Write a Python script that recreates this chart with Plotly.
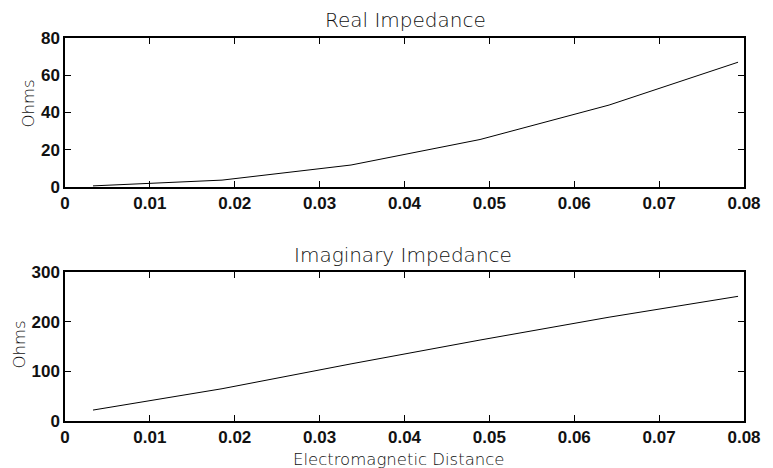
import plotly.graph_objects as go
from plotly.subplots import make_subplots

distance = [0.0033, 0.0185, 0.0337, 0.0489, 0.0641, 0.0793]
real_ohms = [0.6, 3.7, 11.8, 25.5, 44.0, 67.0]
imag_ohms = [22, 65, 115, 163, 209, 251]

x_ticks = [0, 0.01, 0.02, 0.03, 0.04, 0.05, 0.06, 0.07, 0.08]
x_ticklabels = ["0", "0.01", "0.02", "0.03", "0.04", "0.05", "0.06", "0.07", "0.08"]
real_ticks = [0, 20, 40, 60, 80]
real_ticklabels = ["0", "20", "40", "60", "80"]
imag_ticks = [0, 100, 200, 300]
imag_ticklabels = ["0", "100", "200", "300"]

# page body has an 8px margin; figure sized so it fits the window
OFF = 8
W, H = 773 - OFF, 468 - OFF
L, R, T, B = 65 - OFF, 21, 38 - OFF, 47
PW, PH = W - L - R, H - T - B


def px(x):
    return (x - OFF - L) / PW


def py(y):
    return (H - B - (y - OFF)) / PH


def bold(labels):
    return ["<b>" + s + "</b>" for s in labels]


top_dom = [py(187), 1.0]
bot_dom = [0.0, py(272)]

fig = make_subplots(rows=2, cols=1)
fig.add_trace(go.Scatter(x=distance, y=real_ohms, mode="lines",
                         line=dict(color="black", width=1)), row=1, col=1)
fig.add_trace(go.Scatter(x=distance, y=imag_ohms, mode="lines",
                         line=dict(color="black", width=1)), row=2, col=1)

tickfont = dict(family="Liberation Sans, Arial", size=17, color="#111")
labfont = dict(family="DejaVu Sans", size=16.5, color="#111", weight=200)
titfont = dict(family="DejaVu Sans", size=20, color="#111", weight=200)

axcommon = dict(showline=True, linecolor="black", linewidth=1.5, mirror="ticks",
                ticks="inside", ticklen=6, tickcolor="black", tickwidth=1,
                showgrid=False, zeroline=False, tickfont=tickfont)

for r in (1, 2):
    fig.update_xaxes(range=[0, 0.08], tickvals=x_ticks, ticktext=bold(x_ticklabels),
                     **axcommon, row=r, col=1)
fig.update_yaxes(range=[0, 80], tickvals=real_ticks, ticktext=bold(real_ticklabels),
                 domain=top_dom, **axcommon, row=1, col=1)
fig.update_yaxes(range=[0, 300], tickvals=imag_ticks, ticktext=bold(imag_ticklabels),
                 domain=bot_dom, **axcommon, row=2, col=1)

fig.add_annotation(text="Real Impedance", x=px(410), y=py(20), xref="paper", yref="paper",
                   xanchor="center", yanchor="middle", showarrow=False, font=titfont)
fig.add_annotation(text="Imaginary Impedance", x=px(407), y=py(255), xref="paper", yref="paper",
                   xanchor="center", yanchor="middle", showarrow=False, font=titfont)
fig.add_annotation(text="Ohms", x=px(28.5), y=py(103.5), xref="paper", yref="paper",
                   xanchor="center", yanchor="middle", textangle=-90, showarrow=False, font=labfont)
fig.add_annotation(text="Ohms", x=px(18), y=py(345), xref="paper", yref="paper",
                   xanchor="center", yanchor="middle", textangle=-90, showarrow=False, font=labfont)
fig.add_annotation(text="Electromagnetic Distance", x=px(402), y=py(459), xref="paper", yref="paper",
                   xanchor="center", yanchor="middle", showarrow=False, font=labfont)

fig.update_layout(width=W, height=H, margin=dict(l=L, r=R, t=T, b=B),
                  plot_bgcolor="white", paper_bgcolor="white", showlegend=False)

fig.write_html("out.html")
